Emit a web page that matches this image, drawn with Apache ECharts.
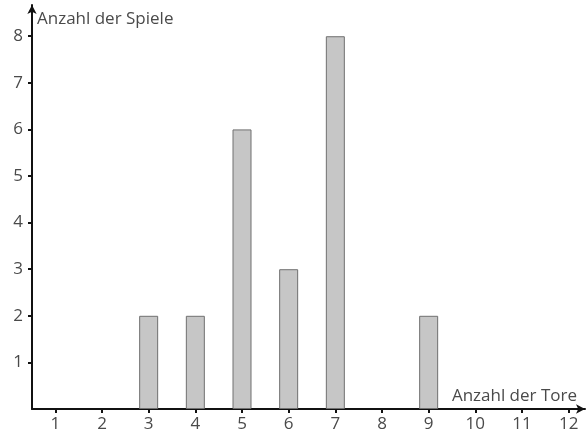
<!DOCTYPE html>
<html><head><meta charset="utf-8">
<script src="https://cdn.jsdelivr.net/npm/echarts@6/dist/echarts.min.js"></script>
<style>html,body{margin:0;padding:0;background:#fff}#c{width:586px;height:440px}</style>
</head><body><div id="c"></div>
<script>
const tore = [3, 4, 5, 6, 7, 9];
const spiele = [2, 2, 6, 3, 8, 2];
const xTicks = [1,2,3,4,5,6,7,8,9,10,11,12];
const yTicks = [1,2,3,4,5,6,7,8];
const xName = 'Anzahl der Tore';
const yName = 'Anzahl der Spiele';

const font = 'Open Sans';
const txt = '#4a4a4a';
const chart = echarts.init(document.getElementById('c'));
chart.setOption({
  animation: false,
  grid: { left: 32, right: 1, top: 5, bottom: 31 },
  xAxis: {
    type: 'value', min: 0.5, max: 12.35, interval: 0.5,
    name: xName, nameLocation: 'end', nameGap: -8,
    nameTextStyle: { align: 'right', verticalAlign: 'bottom', padding: [0, 0, 4, 0], fontFamily: font, fontSize: 17, color: txt },
    axisLine: { show: true, lineStyle: { color: '#111', width: 2 }, symbol: ['none', 'arrow'], symbolSize: [7, 9], onZero: false },
    axisTick: { show: true, length: 4, lineStyle: { color: '#111', width: 2 }, customValues: xTicks },
    axisLabel: { fontFamily: font, fontSize: 17, color: txt, margin: 7, customValues: xTicks },
    splitLine: { show: false }
  },
  yAxis: {
    type: 'value', min: 0, max: 8.67, interval: 1,
    name: yName, nameLocation: 'end', nameGap: -14,
    nameTextStyle: { align: 'left', verticalAlign: 'middle', padding: [0, 0, 0, 5], fontFamily: font, fontSize: 17, color: txt },
    axisLine: { show: true, lineStyle: { color: '#111', width: 2 }, symbol: ['none', 'arrow'], symbolSize: [7, 9] },
    axisTick: { show: true, length: 4, lineStyle: { color: '#111', width: 2 }, customValues: yTicks },
    axisLabel: { fontFamily: font, fontSize: 17, color: txt, margin: 9, customValues: yTicks },
    splitLine: { show: false }
  },
  series: [{
    type: 'bar', barWidth: 19,
    data: tore.map((t, i) => [t, spiele[i]]),
    itemStyle: { color: '#c6c6c6', borderColor: '#707070', borderWidth: 1 }
  }]
});
</script></body></html>
